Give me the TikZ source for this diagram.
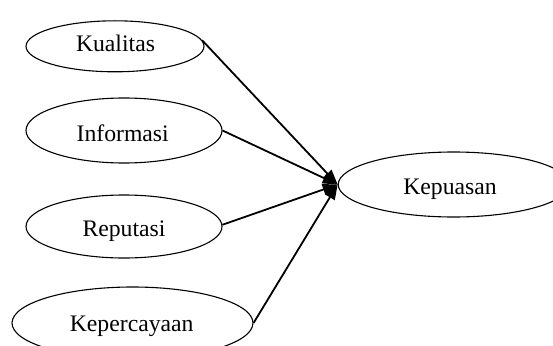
\documentclass[tikz,border=0pt]{standalone}
\usepackage{fontspec}
\setmainfont{Liberation Serif}
\usetikzlibrary{shapes.geometric,arrows.meta}
\tikzset{
  oval/.style={draw=black, ellipse, line width=1.1pt, inner sep=0pt},
  lbl/.style={inner sep=0pt, anchor=base, font=\fontsize{23.7}{28}\selectfont},
  conn/.style={draw=black, line width=1.8pt, -{Triangle[length=15pt,width=11pt]}}
}
\begin{document}
\begin{tikzpicture}[x=1pt,y=-1pt]
\useasboundingbox (0,0) rectangle (553,345);
\begin{scope}
\clip (0,0) rectangle (553,345);
\node[oval, minimum width=178pt, minimum height=51pt] (kual) at (115,46.3) {};
\node[oval, minimum width=196pt, minimum height=65pt] (info) at (124,130.5) {};
\node[oval, minimum width=196pt, minimum height=63pt] (repu) at (124,226.5) {};
\node[oval, minimum width=241pt, minimum height=72pt] (perc) at (132.5,323) {};
\node[oval, minimum width=231pt, minimum height=65pt] (puas) at (453.7,184.5) {};
\end{scope}
\node[lbl] at (115.5,51.7) {Kualitas};
\node[lbl] at (122.7,141.7) {Informasi};
\node[lbl] at (124,236) {Reputasi};
\node[lbl] at (131.7,331) {Kepercayaan};
\node[lbl] at (450,194) {Kepuasan};
\draw[conn] (kual.4) -- (puas.west);
\draw[conn] (info.east) -- (puas.west);
\draw[conn] (repu.1) -- (puas.west);
\draw[conn] (perc.east) -- (puas.west);
\end{tikzpicture}
\end{document}
